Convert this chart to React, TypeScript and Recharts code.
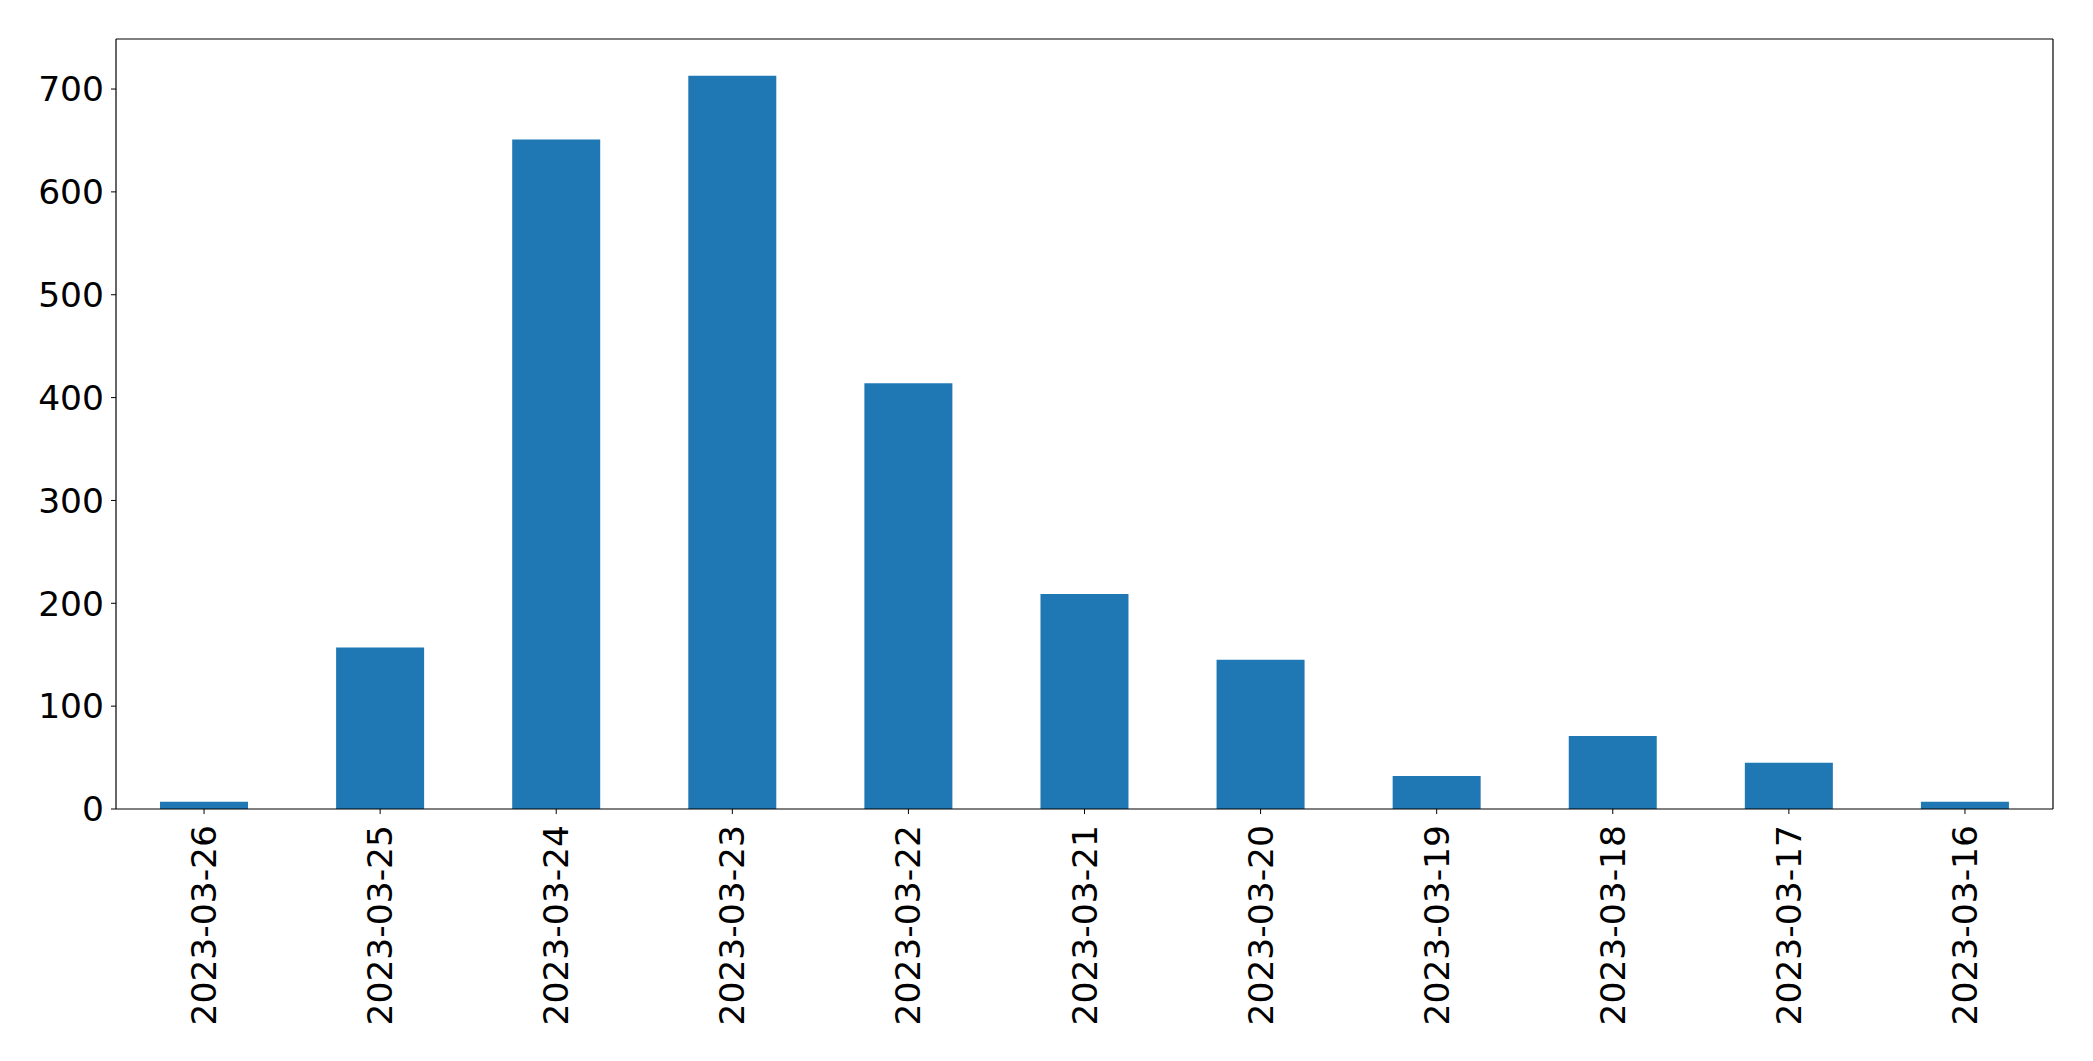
import React from 'react';
import { BarChart, Bar, XAxis, YAxis, CartesianGrid } from 'recharts';

const dates = [
  '2023-03-26', '2023-03-25', '2023-03-24', '2023-03-23', '2023-03-22', '2023-03-21',
  '2023-03-20', '2023-03-19', '2023-03-18', '2023-03-17', '2023-03-16',
];
const counts = [7, 157, 651, 713, 414, 209, 145, 32, 71, 45, 7];
const yTicks = [0, 100, 200, 300, 400, 500, 600, 700];

const data = dates.map((d, i) => ({ date: d, count: counts[i] }));

// matplotlib-style 5% headroom above the tallest bar
const yMax = Math.max(...counts) * 1.05;

const FONT = 'DejaVu Sans, sans-serif';
const FONT_SIZE = 34.5;

function DateTick(props: any) {
  const { x, y, payload } = props;
  return (
    <g transform={`translate(${x},${y})`}>
      <text
        transform="rotate(-90)"
        x={-11}
        y={0}
        textAnchor="end"
        dominantBaseline="central"
        fill="#000"
        fontSize={FONT_SIZE}
        fontFamily={FONT}
      >
        {payload.value}
      </text>
    </g>
  );
}

export default function App() {
  return (
    <div style={{ position: 'absolute', left: 0, top: 0, background: '#fff' }}>
      <BarChart
        width={2093}
        height={1061}
        data={data}
        margin={{ top: 39, right: 40, bottom: 0, left: 0 }}
        barCategoryGap="25%"
      >
        {/* top and right frame lines at the plot edges */}
        <CartesianGrid
          xAxisId="main"
          yAxisId="main"
          stroke="#000"
          strokeWidth={1.2}
          horizontalCoordinatesGenerator={({ offset }: any) => [offset.top]}
          verticalCoordinatesGenerator={({ offset }: any) => [offset.left + offset.width]}
        />
        <XAxis
          xAxisId="main"
          dataKey="date"
          height={252}
          interval={0}
          tickSize={5}
          tickMargin={0}
          tickLine={{ stroke: '#000' }}
          axisLine={{ stroke: '#000', strokeWidth: 1.2 }}
          tick={<DateTick />}
        />
        <YAxis
          yAxisId="main"
          width={116}
          domain={[0, yMax]}
          ticks={yTicks}
          allowDataOverflow
          tickSize={5}
          tickMargin={7}
          tickLine={{ stroke: '#000' }}
          axisLine={{ stroke: '#000', strokeWidth: 1.2 }}
          tick={{ fill: '#000', fontSize: FONT_SIZE, fontFamily: FONT }}
        />
        <Bar
          xAxisId="main"
          yAxisId="main"
          dataKey="count"
          fill="#1f77b4"
          isAnimationActive={false}
        />
      </BarChart>
    </div>
  );
}
